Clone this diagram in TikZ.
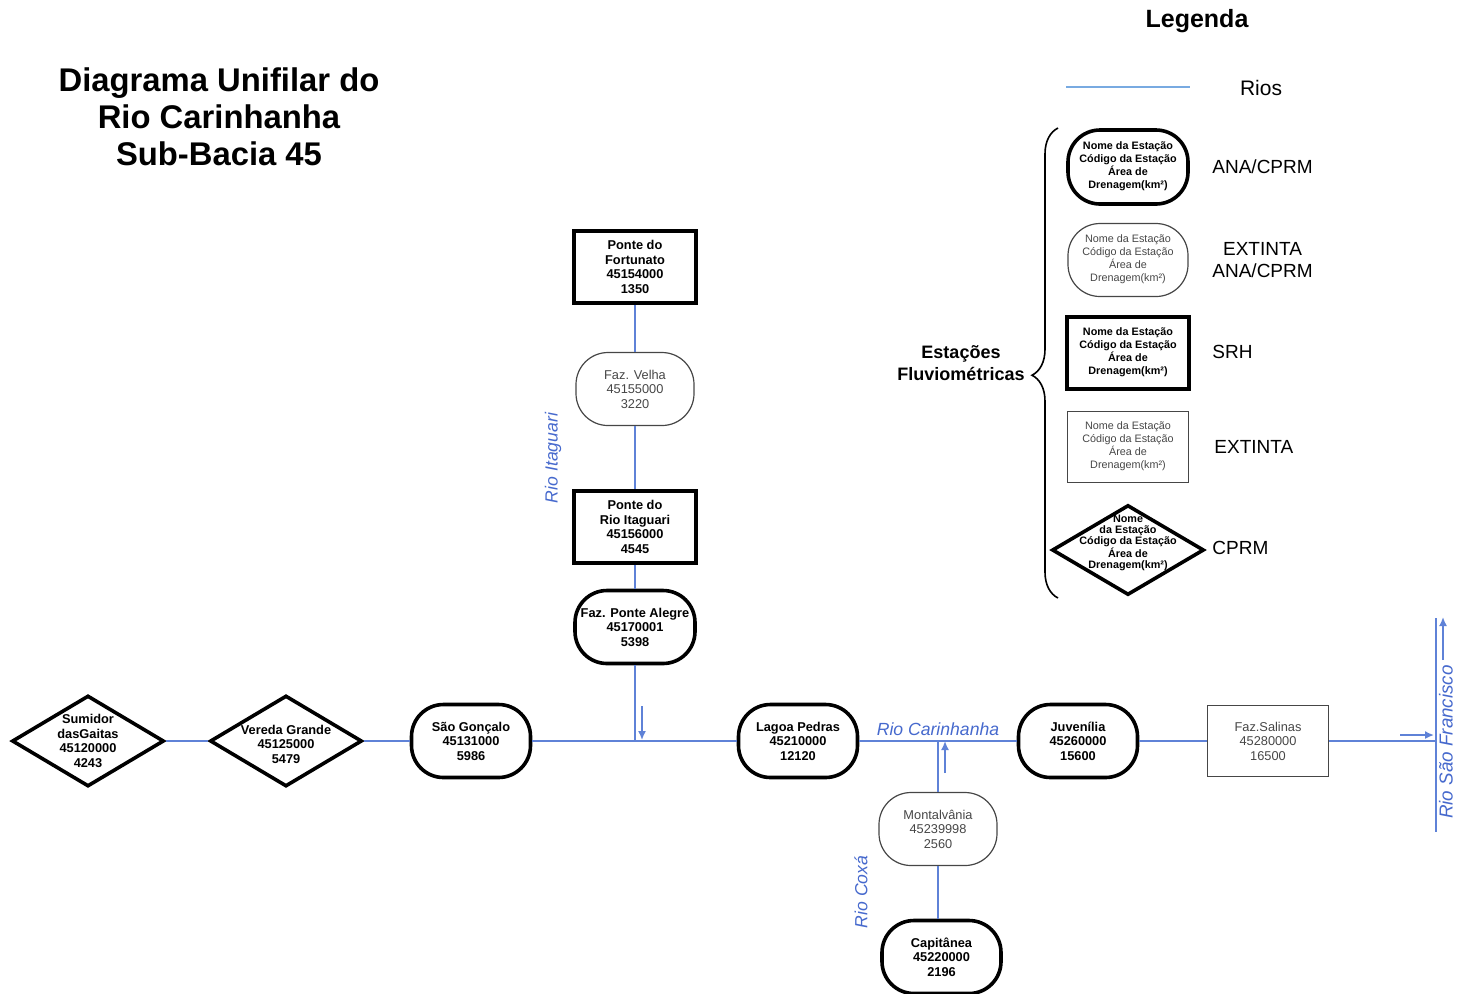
\documentclass[tikz,border=0pt]{standalone}
\usepackage{fontspec}
\setmainfont{Liberation Sans}
\usetikzlibrary{shapes.geometric,arrows.meta,decorations.pathreplacing}
\definecolor{river}{RGB}{95,130,215}
\definecolor{rtext}{RGB}{70,105,205}
\definecolor{legline}{RGB}{120,170,225}
\definecolor{thingray}{RGB}{70,70,70}
\begin{document}
\begin{tikzpicture}[x=0.5pt,y=-0.5pt,
  every node/.style={inner sep=0pt, align=center},
  boldtxt/.style={font=\fontsize{6.4}{7.25}\selectfont\bfseries},
  thintxt/.style={font=\fontsize{6.4}{7.25}\selectfont, text=thingray},
  legbold/.style={font=\fontsize{5.4}{6.5}\selectfont\bfseries},
  legthin/.style={font=\fontsize{5.4}{6.5}\selectfont, text=thingray},
  stadA/.style={draw=black, line width=1.8pt, rounded corners=16pt, minimum width=59.5pt, minimum height=36.5pt},
  stadX/.style={draw=thingray, line width=0.6pt, rounded corners=16pt, minimum width=59pt, minimum height=36.5pt},
  boxA/.style={draw=black, line width=1.8pt, minimum width=61pt, minimum height=36pt},
  boxX/.style={draw=thingray, line width=0.6pt, minimum width=60.5pt, minimum height=35.5pt},
  diam/.style={diamond, draw=black, line width=1.8pt, minimum width=76pt, minimum height=45.5pt},
  rio/.style={draw=river, line width=0.8pt},
  flow/.style={draw=river, line width=0.8pt, -{Latex[length=4.5pt,width=4pt]}},
  rlabel/.style={text=rtext, font=\fontsize{8.8}{10}\selectfont\itshape},
  leglabel/.style={font=\fontsize{9.5}{11}\selectfont, anchor=west},
]
\useasboundingbox (0,0) rectangle (1457,993);

% ---------- title ----------
\node[font=\fontsize{16.4}{18.5}\selectfont\bfseries] (title) at (219,117) {Diagrama Unifilar do\\Rio Carinhanha\\Sub-Bacia 45};

% ---------- legend ----------
\node[font=\fontsize{12.5}{14}\selectfont\bfseries] (legenda) at (1197,21) {Legenda};
\coordinate (rl1) at (1066,87);
\coordinate (rl2) at (1190,87);
\draw[draw=legline, line width=0.9pt] (rl1) -- (rl2);
\node[font=\fontsize{10.5}{12}\selectfont] (rios) at (1261,88) {Rios};

\draw[decorate, decoration={brace, amplitude=13pt, aspect=0.474}, line width=0.8pt] (1058,598) -- (1058,128);
\node[font=\fontsize{9}{11}\selectfont\bfseries] (estacoes) at (961,363) {Estações\\Fluviométricas};

\node[stadA, minimum width=60pt, minimum height=37pt] (lg1) at (1128,167) {};
\node[legbold] (lg1t) at (1128,166) {Nome da Estação\\Código da Estação\\Área de\\Drenagem(km²)};
\node[leglabel] (lg1l) at (1212,167) {ANA/CPRM};

\node[stadX, minimum width=60pt, minimum height=36.5pt] (lg2) at (1128,260) {};
\node[legthin] (lg2t) at (1128,259) {Nome da Estação\\Código da Estação\\Área de\\Drenagem(km²)};
\node[leglabel] (lg2l) at (1212,260) {EXTINTA\\ANA/CPRM};

\node[boxA] (lg3) at (1128,353) {};
\node[legbold] (lg3t) at (1128,352) {Nome da Estação\\Código da Estação\\Área de\\Drenagem(km²)};
\node[leglabel] (lg3l) at (1212,352) {SRH};

\node[boxX] (lg4) at (1128,447) {};
\node[legthin] (lg4t) at (1128,446) {Nome da Estação\\Código da Estação\\Área de\\Drenagem(km²)};
\node[leglabel] (lg4l) at (1214,447) {EXTINTA};

\node[diam, minimum width=76pt, minimum height=45pt] (lg5) at (1128,550) {};
\node[font=\fontsize{5.4}{5.45}\selectfont\bfseries] (lg5t) at (1128,543) {Nome\\da Estação\\Código da Estação\\Área de\\Drenagem(km²)};
\node[leglabel] (lg5l) at (1212,548) {CPRM};

% ---------- main river stations ----------
\node[diam] (sumidor) at (88,741) {};
\node[boldtxt] (sumidort) at (88,741) {Sumidor\\dasGaitas\\45120000\\4243};
\node[diam] (vereda) at (286,741) {};
\node[boldtxt] (veredat) at (286,744) {Vereda Grande\\45125000\\5479};
\node[stadA, boldtxt] (goncalo) at (471,741) {São Gonçalo\\45131000\\5986};
\node[stadA, boldtxt] (lagoa) at (798,741) {Lagoa Pedras\\45210000\\12120};
\node[stadA, boldtxt] (juven) at (1078,741) {Juvenília\\45260000\\15600};
\node[boxX, thintxt] (salinas) at (1268,741) {Faz.Salinas\\45280000\\16500};

% ---------- Rio Itaguari ----------
\node[boxA, boldtxt] (fortunato) at (635,267) {Ponte do\\Fortunato\\45154000\\1350};
\node[stadX, thintxt] (velha) at (635,389) {Faz. Velha\\45155000\\3220};
\node[boxA, boldtxt] (itaguari) at (635,527) {Ponte do\\Rio Itaguari\\45156000\\4545};
\node[stadA, boldtxt, minimum width=60pt] (alegre) at (635,627) {Faz. Ponte Alegre\\45170001\\5398};

% ---------- Rio Coxá ----------
\node[stadX, thintxt] (montal) at (938,829) {Montalvânia\\45239998\\2560};
\node[stadA, boldtxt] (capit) at (941.5,957) {Capitânea\\45220000\\2196};

% ---------- junctions ----------
\coordinate (j1) at (635,741);
\coordinate (j2) at (938,741);
\coordinate (sf) at (1436,741);
\coordinate (sftop) at (1436,618);
\coordinate (sfbot) at (1436,832);

% ---------- river lines ----------
\draw[rio] (sumidor.east) -- (vereda.west);
\draw[rio] (vereda.east) -- (goncalo.west);
\draw[rio] (goncalo.east) -- (j1) -- (lagoa.west);
\draw[rio] (lagoa.east) -- (j2) -- (juven.west);
\draw[rio] (juven.east) -- (salinas.west);
\draw[rio] (salinas.east) -- (sf);
\draw[rio] (sftop) -- (sfbot);
\draw[rio] (fortunato.south) -- (velha.north);
\draw[rio] (velha.south) -- (itaguari.north);
\draw[rio] (itaguari.south) -- (alegre.north);
\draw[rio] (alegre.south) -- (j1);
\draw[rio] (montal.north) -- (j2);
\draw[rio] (montal.south) -- (montal.south |- capit.north);

% ---------- flow arrows ----------
\coordinate (a1s) at (642,706);
\coordinate (a1e) at (642,740);
\draw[flow] (a1s) -- (a1e);
\coordinate (a2s) at (945,773);
\coordinate (a2e) at (945,741);
\draw[flow] (a2s) -- (a2e);
\coordinate (a3s) at (1400,735);
\coordinate (a3e) at (1434,735);
\draw[flow] (a3s) -- (a3e);
\coordinate (a4s) at (1443,660);
\coordinate (a4e) at (1443,617);
\draw[flow] (a4s) -- (a4e);

% ---------- river labels ----------
\node[rlabel] (lcar) at (938,729) {Rio Carinhanha};
\node[rlabel, rotate=90] (lita) at (553,458) {Rio Itaguari};
\node[rlabel, rotate=90] (lcox) at (861,892) {Rio Coxá};
\node[rlabel, rotate=90, font=\fontsize{9.4}{10}\selectfont\itshape] (lsf) at (1446,742) {Rio São Francisco};
\end{tikzpicture}
\end{document}
